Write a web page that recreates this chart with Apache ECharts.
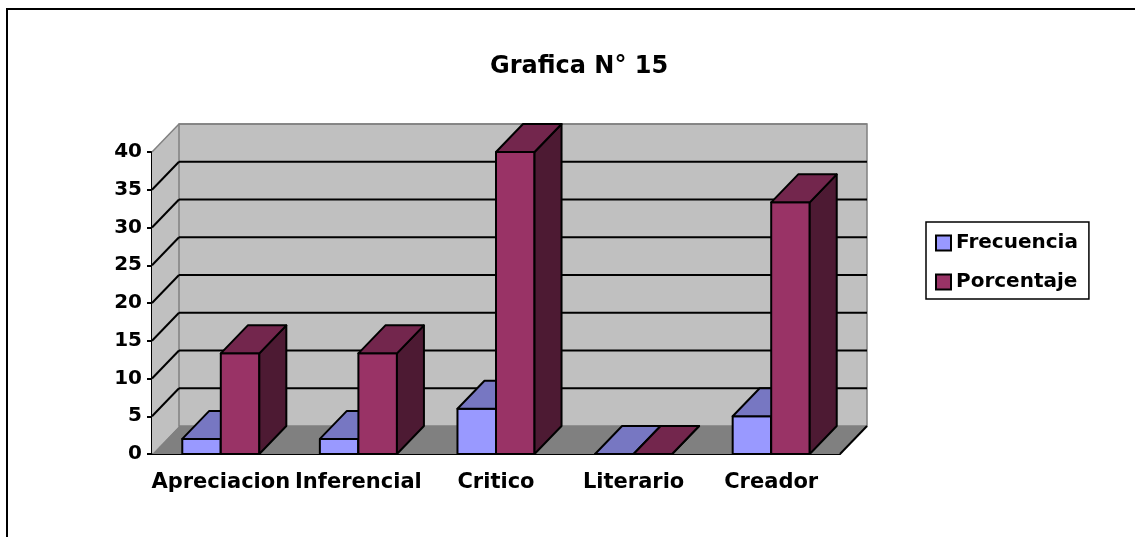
<!DOCTYPE html>
<html>
<head>
<meta charset="utf-8">
<script src="https://cdn.jsdelivr.net/npm/echarts@6/dist/echarts.min.js"></script>
<style>
  html, body { margin: 0; padding: 0; background: #fff; }
  #chart { width: 1135px; height: 537px; }
</style>
</head>
<body>
<div id="chart"></div>
<script>
const categories = ["Apreciacion", "Inferencial", "Critico", "Literario", "Creador"];
const frecuencia = [2, 2, 6, 0, 5];
const porcentaje = [13.33, 13.33, 40, 0, 33.33];
const yTicks = [0, 5, 10, 15, 20, 25, 30, 35, 40];

// depth of the fake 3d box, in px
const DX = 27;
const DY = 28;
const FONT = "DejaVu Sans";

const chart = echarts.init(document.getElementById("chart"));

function renderWalls(params, api) {
  const cs = params.coordSys;
  const x = cs.x, y = cs.y, w = cs.width, h = cs.height;
  return {
    type: "group",
    children: [
      {
        type: "polygon",
        shape: { points: [[x, y], [x + DX, y - DY], [x + DX, y + h - DY], [x, y + h]] },
        style: { fill: "#c0c0c0", stroke: null },
      },
      {
        type: "rect",
        shape: { x: x + DX, y: y - DY, width: w, height: h },
        style: { fill: "#c0c0c0", stroke: "#808080", lineWidth: 1.5 },
      },
      {
        type: "polygon",
        shape: { points: [[x, y + h], [x + w, y + h], [x + w + DX, y + h - DY], [x + DX, y + h - DY]] },
        style: { fill: "#808080", stroke: null },
      },
      {
        type: "line",
        shape: { x1: x + w, y1: y + h, x2: x + w + DX, y2: y + h - DY },
        style: { stroke: "#000", lineWidth: 2 },
      },
    ],
  };
}

function renderGridLines(params, api) {
  const cs = params.coordSys;
  const v = api.value(1);
  const py = api.coord([0, v])[1];
  if (v === 0) return { type: "group", children: [] };
  const isTop = v === yTicks[yTicks.length - 1];
  const color = isTop ? "#808080" : "#000";
  const lw = isTop ? 1.5 : 2;
  return {
    type: "group",
    children: [
      {
        type: "line",
        shape: { x1: cs.x + DX, y1: py - DY, x2: cs.x + cs.width + DX, y2: py - DY },
        style: { stroke: color, lineWidth: lw },
      },
      {
        type: "line",
        shape: { x1: cs.x, y1: py, x2: cs.x + DX, y2: py - DY },
        style: { stroke: color, lineWidth: lw },
      },
    ],
  };
}

function barRenderer(left, colors) {
  return function (params, api) {
    const idx = api.value(0);
    const v = api.value(1);
    const base = api.coord([idx, 0]);
    const top = api.coord([idx, v]);
    const bw = api.size([1, 0])[0] * 0.28;
    const x0 = left ? base[0] - bw : base[0];
    const x1 = x0 + bw;
    const yb = base[1];
    const yt = top[1];
    const line = { stroke: "#000", lineWidth: 2, lineJoin: "round" };
    return {
      type: "group",
      children: [
        {
          type: "polygon",
          shape: { points: [[x0, yb], [x1, yb], [x1, yt], [x0, yt]] },
          style: Object.assign({ fill: colors[0] }, line),
        },
        {
          type: "polygon",
          shape: { points: [[x1, yt], [x1 + DX, yt - DY], [x1 + DX, yb - DY], [x1, yb]] },
          style: Object.assign({ fill: colors[2] }, line),
        },
        {
          type: "polygon",
          shape: { points: [[x0, yt], [x1, yt], [x1 + DX, yt - DY], [x0 + DX, yt - DY]] },
          style: Object.assign({ fill: colors[1] }, line),
        },
      ],
    };
  };
}

chart.setOption({
  animation: false,
  backgroundColor: "#fff",
  title: {
    text: "Grafica N° 15",
    left: 485,
    top: 50,
    textStyle: { fontFamily: FONT, fontWeight: "bold", fontSize: 24, color: "#000" },
  },
  legend: {
    orient: "vertical",
    left: 926,
    top: 222,
    padding: [10, 11, 6, 9],
    itemGap: 17,
    itemWidth: 15,
    itemHeight: 15,
    borderColor: "#000",
    borderWidth: 1.5,
    textStyle: { fontFamily: FONT, fontWeight: "bold", fontSize: 20, color: "#000", lineHeight: 22 },
    data: [
      { name: "Frecuencia", icon: "rect", itemStyle: { color: "#9999ff", borderColor: "#000", borderWidth: 2 } },
      { name: "Porcentaje", icon: "rect", itemStyle: { color: "#993366", borderColor: "#000", borderWidth: 2 } },
    ],
  },
  grid: { left: 152, right: 295, top: 152, bottom: 83 },
  xAxis: {
    type: "category",
    data: categories,
    axisLine: { lineStyle: { color: "#000", width: 2 } },
    axisTick: { length: 6, lineStyle: { color: "#000", width: 2 } },
    axisLabel: { interval: 0, margin: 18, fontFamily: FONT, fontWeight: "bold", fontSize: 21, color: "#000" },
    splitLine: { show: false },
  },
  yAxis: {
    type: "value",
    min: 0,
    max: 40,
    interval: 5,
    axisLine: { show: true, lineStyle: { color: "#000", width: 2 } },
    axisTick: { show: true, length: 5, lineStyle: { color: "#000", width: 2 } },
    axisLabel: { margin: 10, fontFamily: FONT, fontWeight: "bold", fontSize: 20, color: "#000" },
    splitLine: { show: false },
  },
  graphic: [
    {
      type: "rect",
      shape: { x: 7, y: 9, width: 1200, height: 600 },
      style: { fill: null, stroke: "#000", lineWidth: 2 },
      silent: true,
      z: -10,
    },
  ],
  series: [
    {
      name: "walls",
      type: "custom",
      renderItem: renderWalls,
      data: [[0, 0]],
      clip: false,
      silent: true,
      z: 1,
    },
    {
      name: "gridlines",
      type: "custom",
      renderItem: renderGridLines,
      data: yTicks.map((t) => [0, t]),
      clip: false,
      silent: true,
      z: 1,
    },
    {
      name: "Frecuencia",
      type: "custom",
      itemStyle: { color: "#9999ff" },
      renderItem: barRenderer(true, ["#9999ff", "#7777c2", "#4d4d80"]),
      data: frecuencia.map((v, i) => [i, v]),
      clip: false,
      z: 2,
    },
    {
      name: "Porcentaje",
      type: "custom",
      itemStyle: { color: "#993366" },
      renderItem: barRenderer(false, ["#993366", "#73264d", "#4d1a33"]),
      data: porcentaje.map((v, i) => [i, v]),
      clip: false,
      z: 2,
    },
  ],
});
</script>
</body>
</html>
